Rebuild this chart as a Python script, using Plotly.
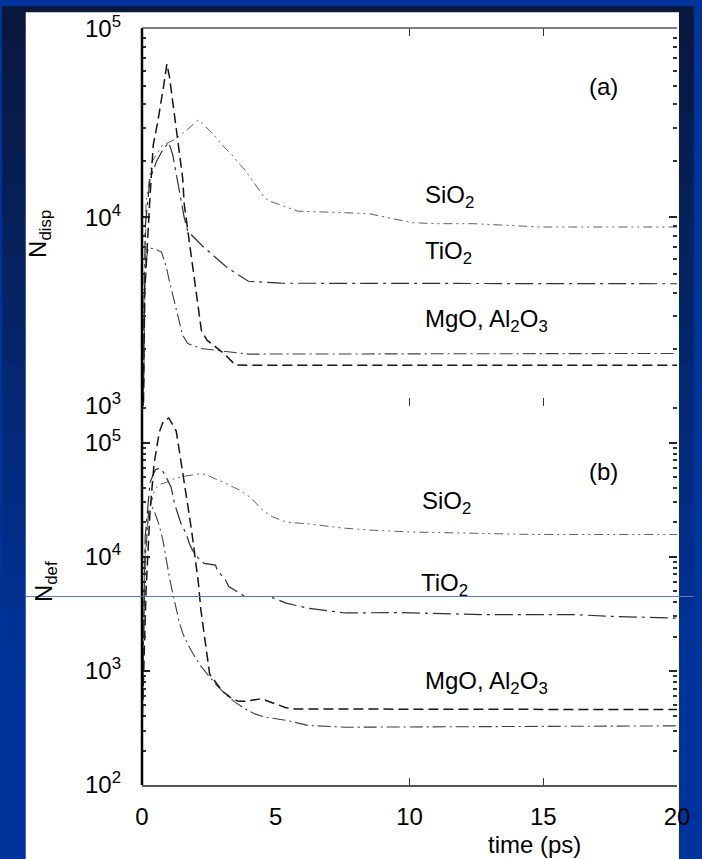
import plotly.graph_objects as go

# ---------------- data ----------------
# Panel (a): N_disp vs time (ps)
t_a_dash = [0, 0.1, 0.29, 0.42, 0.58, 0.70, 0.81, 0.93, 1.03, 1.15, 1.28, 1.40, 1.52, 1.58, 1.68,
            1.85, 1.98, 2.10, 2.22, 2.43, 3.06, 3.49, 4.0, 20]
n_a_dash = [200, 4000, 12200, 24200, 31600, 39300, 50000, 65200, 55400, 40900, 29800, 21500, 16200,
            11700, 9200, 6380, 4550, 3410, 2515, 2235, 1900, 1650, 1645, 1645]

t_a_dd = [0, 0.08, 0.23, 0.5, 0.73, 0.91, 1.03, 1.15, 1.28, 1.40, 1.52, 1.71, 2.2, 2.69, 3.98, 20]
n_a_dd = [200, 5000, 6900, 6800, 6550, 5460, 4550, 3855, 3210, 2735, 2373, 2147, 2020, 1980, 1885, 1900]

t_a_ti = [0, 0.12, 0.3, 0.54, 0.75, 1.0, 1.15, 1.3, 1.45, 1.58, 1.71, 1.89, 2.26, 2.75, 3.18, 3.55,
          3.98, 5.2, 20]
n_a_ti = [200, 9000, 16000, 19800, 22500, 25000, 21500, 16500, 12500, 9960, 8470, 7950, 7060, 6130,
          5435, 5015, 4590, 4480, 4450]

t_a_si = [0, 0.15, 0.37, 0.55, 0.77, 1.03, 1.29, 1.66, 2.1, 2.26, 2.69, 3.0, 3.24, 3.43, 3.61, 3.79,
          3.98, 4.16, 4.35, 4.59, 4.78, 5.15, 5.51, 5.82, 7.6, 8.52, 10.1, 11.1, 12.39, 13.6, 14.9, 20]
n_a_si = [200, 12000, 19700, 21500, 24200, 25100, 26300, 29000, 32800, 31500, 27350, 24200, 22300,
          21000, 19400, 18300, 16800, 15500, 14300, 12700, 12200, 11700, 11200, 10800, 10600, 10450,
          9380, 9270, 9270, 9080, 8900, 8900]

# Panel (b): N_def vs time (ps)
t_b_dash = [0, 0.15, 0.3, 0.45, 0.6, 0.66, 0.8, 1.0, 1.28, 1.40, 1.50, 1.62, 1.74, 1.87, 1.95, 1.99,
            2.11, 2.20, 2.32, 2.44, 2.53, 2.81, 2.99, 3.30, 3.61, 3.86, 4.22, 4.46, 5.38, 5.71, 20]
n_b_dash = [300, 5000, 25000, 65000, 107000, 126500, 155000, 165000, 126500, 84700, 58600, 38000,
            25500, 15960, 11400, 9230, 5860, 3440, 2150, 1265, 935, 766, 670, 586, 541, 541, 556,
            571, 476, 464, 458]

t_b_si = [0, 0.12, 0.25, 0.48, 0.66, 0.91, 1.22, 1.52, 2.07, 2.38, 2.75, 3.06, 3.43, 3.67, 4.04,
          4.28, 4.53, 4.9, 5.39, 5.64, 6.19, 7.48, 8.64, 10.1, 12.57, 14.66, 20]
n_b_si = [300, 12000, 25000, 38900, 43100, 44900, 48600, 50600, 53000, 53000, 48000, 44900, 40600,
          38300, 33300, 29000, 25400, 22300, 20200, 19900, 19500, 17900, 17100, 16500, 15950, 15700,
          15700]

t_b_ti = [0, 0.12, 0.3, 0.5, 0.66, 0.78, 0.91, 1.09, 1.22, 1.34, 1.46, 1.65, 1.77, 1.89, 2.1, 2.32,
          2.75, 2.81, 3.12, 3.24, 3.86, 4.78, 5.39, 6.19, 7.03, 7.59, 9.5, 12.88, 16.25, 17.5, 20]
n_b_ti = [300, 15000, 45000, 58000, 60000, 56000, 49700, 40600, 29000, 23800, 19500, 16000, 13100,
          11400, 9800, 8750, 8470, 7660, 6270, 5480, 4490, 4490, 3930, 3550, 3330, 3220, 3250, 3110,
          3110, 3010, 2900]

t_b_dd = [0, 0.1, 0.25, 0.4, 0.55, 0.66, 0.78, 0.91, 1.04, 1.17, 1.28, 1.40, 1.52, 1.71, 1.89, 2.2,
          2.75, 3.12, 3.49, 3.86, 4.22, 4.59, 5.45, 6.19, 7.66, 20]
n_b_dd = [300, 8000, 25000, 27000, 22000, 18200, 14000, 9350, 6310, 4580, 3440, 2630, 2150, 1710,
          1440, 1100, 766, 627, 530, 464, 420, 393, 367, 333, 321, 330]

x_ticks = [0, 5, 10, 15, 20]
ya_ticks = [1e3, 1e4, 1e5]
ya_text = ["10<sup>3</sup>", "10<sup>4</sup>", "10<sup>5</sup>"]
yb_ticks = [1e2, 1e3, 1e4, 1e5]
yb_text = ["10<sup>2</sup>", "10<sup>3</sup>", "10<sup>4</sup>", "10<sup>5</sup>"]

FONT = "Liberation Sans, Arial, Helvetica, sans-serif"
FS = 24

# ---------------- figure ----------------
fig = go.Figure()

styles = {
    "dash": dict(color="#151515", width=1.5, dash="10px,5px"),
    "dd": dict(color="#404040", width=1.1, dash="13px,4px,2px,4px"),
    "ti": dict(color="#303030", width=1.2, dash="18px,5px,3px,5px"),
    "si": dict(color="#5e5e5e", width=1.0, dash="9px,4px,2px,4px,2px,4px"),
}

for tx, ny, st in [(t_a_si, n_a_si, "si"), (t_a_ti, n_a_ti, "ti"), (t_a_dd, n_a_dd, "dd"),
                   (t_a_dash, n_a_dash, "dash")]:
    fig.add_trace(go.Scatter(x=tx, y=ny, mode="lines", line=styles[st], xaxis="x", yaxis="y",
                             showlegend=False, hoverinfo="skip"))

for tx, ny, st in [(t_b_si, n_b_si, "si"), (t_b_ti, n_b_ti, "ti"), (t_b_dd, n_b_dd, "dd"),
                   (t_b_dash, n_b_dash, "dash")]:
    fig.add_trace(go.Scatter(x=tx, y=ny, mode="lines", line=styles[st], xaxis="x2", yaxis="y2",
                             showlegend=False, hoverinfo="skip"))

minor_a = [m * 10 ** e for e in (3, 4) for m in range(2, 10)]
minor_b = [m * 10 ** e for e in (2, 3, 4) for m in range(2, 10)] + [2e5]

SPLIT = (785 - 403) / 763.0

fig.update_layout(
    width=702, height=859,
    margin=dict(l=142, r=17, t=22, b=74),
    paper_bgcolor="#00339a",
    plot_bgcolor="rgba(0,0,0,0)",
    font=dict(family=FONT, size=FS, color="black"),
    xaxis=dict(domain=[0, 1], anchor="y", range=[0, 20], showline=False, showgrid=False,
               zeroline=False, showticklabels=False, tickmode="array", tickvals=[10, 15],
               ticks="inside", ticklen=8, tickwidth=1, tickcolor="#333", mirror="ticks"),
    yaxis=dict(domain=[SPLIT, 1], anchor="x", type="log", range=[3, 5.005], showline=False,
               showgrid=False, zeroline=False, tickmode="array", tickvals=ya_ticks, ticktext=ya_text,
               ticks="inside", ticklen=8, tickwidth=1.5, tickcolor="#222", mirror="ticks",
               ticklabelstandoff=20,
               minor=dict(tickmode="array", tickvals=minor_a, ticks="inside", ticklen=4,
                          tickwidth=1.5, tickcolor="#333", showgrid=False)),
    xaxis2=dict(domain=[0, 1], anchor="y2", range=[0, 20], showline=True, linecolor="#555",
                linewidth=1.5, showgrid=False, zeroline=False, tickmode="array", tickvals=x_ticks,
                ticks="", ticklabelstandoff=9,
                minor=dict(tickmode="array", tickvals=[10, 15], ticks="inside", ticklen=7,
                           tickwidth=1, tickcolor="#333", showgrid=False)),
    yaxis2=dict(domain=[0, SPLIT], anchor="x2", type="log", range=[2, 5.322], showline=False,
                showgrid=False, zeroline=False, tickmode="array", tickvals=yb_ticks,
                ticktext=yb_text, ticks="inside", ticklen=8, tickwidth=1.5, tickcolor="#222",
                mirror="ticks", ticklabelstandoff=20,
                minor=dict(tickmode="array", tickvals=minor_b, ticks="inside", ticklen=4,
                           tickwidth=1.5, tickcolor="#333", showgrid=False)),
)

# ---------------- slide background ----------------
def px_x(p):
    return (p - 142) / 543.0


def px_y(p):
    return (785 - p) / 763.0


shapes = []
n_strips = 24
c_top = (10, 24, 62)
c_bot = (0, 52, 156)
for i in range(n_strips):
    f = i / (n_strips - 1)
    col = tuple(int(c_top[k] + (c_bot[k] - c_top[k]) * min(1, f * 1.25)) for k in range(3))
    y0 = i * 859 / n_strips
    y1 = (i + 1) * 859 / n_strips + 1
    shapes.append(dict(type="rect", xref="paper", yref="paper", x0=px_x(0), x1=px_x(702),
                       y0=px_y(y1), y1=px_y(y0), fillcolor="rgb(%d,%d,%d)" % col,
                       line=dict(width=0), layer="below"))
shapes.append(dict(type="rect", xref="paper", yref="paper", x0=px_x(24), x1=px_x(687),
                   y0=px_y(862), y1=px_y(6), fillcolor="white", line=dict(width=0), layer="below"))
# frame lines
shapes.append(dict(type="line", xref="x domain", yref="y domain", x0=0, x1=0, y0=0, y1=1,
                   line=dict(color="black", width=2.5)))
shapes.append(dict(type="line", xref="x domain", yref="y domain", x0=0, x1=1, y0=1, y1=1,
                   line=dict(color="#555", width=1.5)))
shapes.append(dict(type="line", xref="x2 domain", yref="y2 domain", x0=0, x1=0, y0=0, y1=1,
                   line=dict(color="black", width=2.5)))
# thin slide guide line
shapes.append(dict(type="line", xref="paper", yref="paper", x0=px_x(24), x1=px_x(702),
                   y0=px_y(595), y1=px_y(595), line=dict(color="#5b7bbf", width=1)))
fig.update_layout(shapes=shapes)

# ---------------- texts ----------------
ann = []
ann.append(dict(text="N<sub>disp</sub>", xref="paper", yref="paper", x=px_x(38), y=px_y(230),
                xanchor="center", yanchor="middle", textangle=-90, showarrow=False,
                font=dict(size=FS)))
ann.append(dict(text="N<sub>def</sub>", xref="paper", yref="paper", x=px_x(44), y=px_y(580),
                xanchor="center", yanchor="middle", textangle=-90, showarrow=False,
                font=dict(size=FS)))
ann.append(dict(text="time (ps)", xref="paper", yref="paper", x=px_x(540), y=px_y(845),
                xanchor="center", yanchor="middle", showarrow=False, font=dict(size=FS)))
ann.append(dict(text="(a)", xref="x", yref="y", x=17.25, y=4.695, xanchor="center",
                yanchor="middle", showarrow=False, font=dict(size=FS)))
ann.append(dict(text="(b)", xref="x2", yref="y2", x=17.25, y=4.748, xanchor="center",
                yanchor="middle", showarrow=False, font=dict(size=FS)))
for txt, xx, yy, xr, yr in [("SiO<sub>2</sub>", 10.5, 4.11, "x", "y"),
                            ("TiO<sub>2</sub>", 10.5, 3.815, "x", "y"),
                            ("MgO, Al<sub>2</sub>O<sub>3</sub>", 10.5, 3.452, "x", "y"),
                            ("SiO<sub>2</sub>", 10.4, 4.478, "x2", "y2"),
                            ("TiO<sub>2</sub>", 10.35, 3.757, "x2", "y2"),
                            ("MgO, Al<sub>2</sub>O<sub>3</sub>", 10.5, 2.896, "x2", "y2")]:
    ann.append(dict(text=txt, xref=xr, yref=yr, x=xx, y=yy, xanchor="left", yanchor="middle",
                    showarrow=False, font=dict(size=FS)))
fig.update_layout(annotations=ann)

fig.write_html("out.html", config={"displayModeBar": False},
               post_script="document.body.style.margin='0px';")
